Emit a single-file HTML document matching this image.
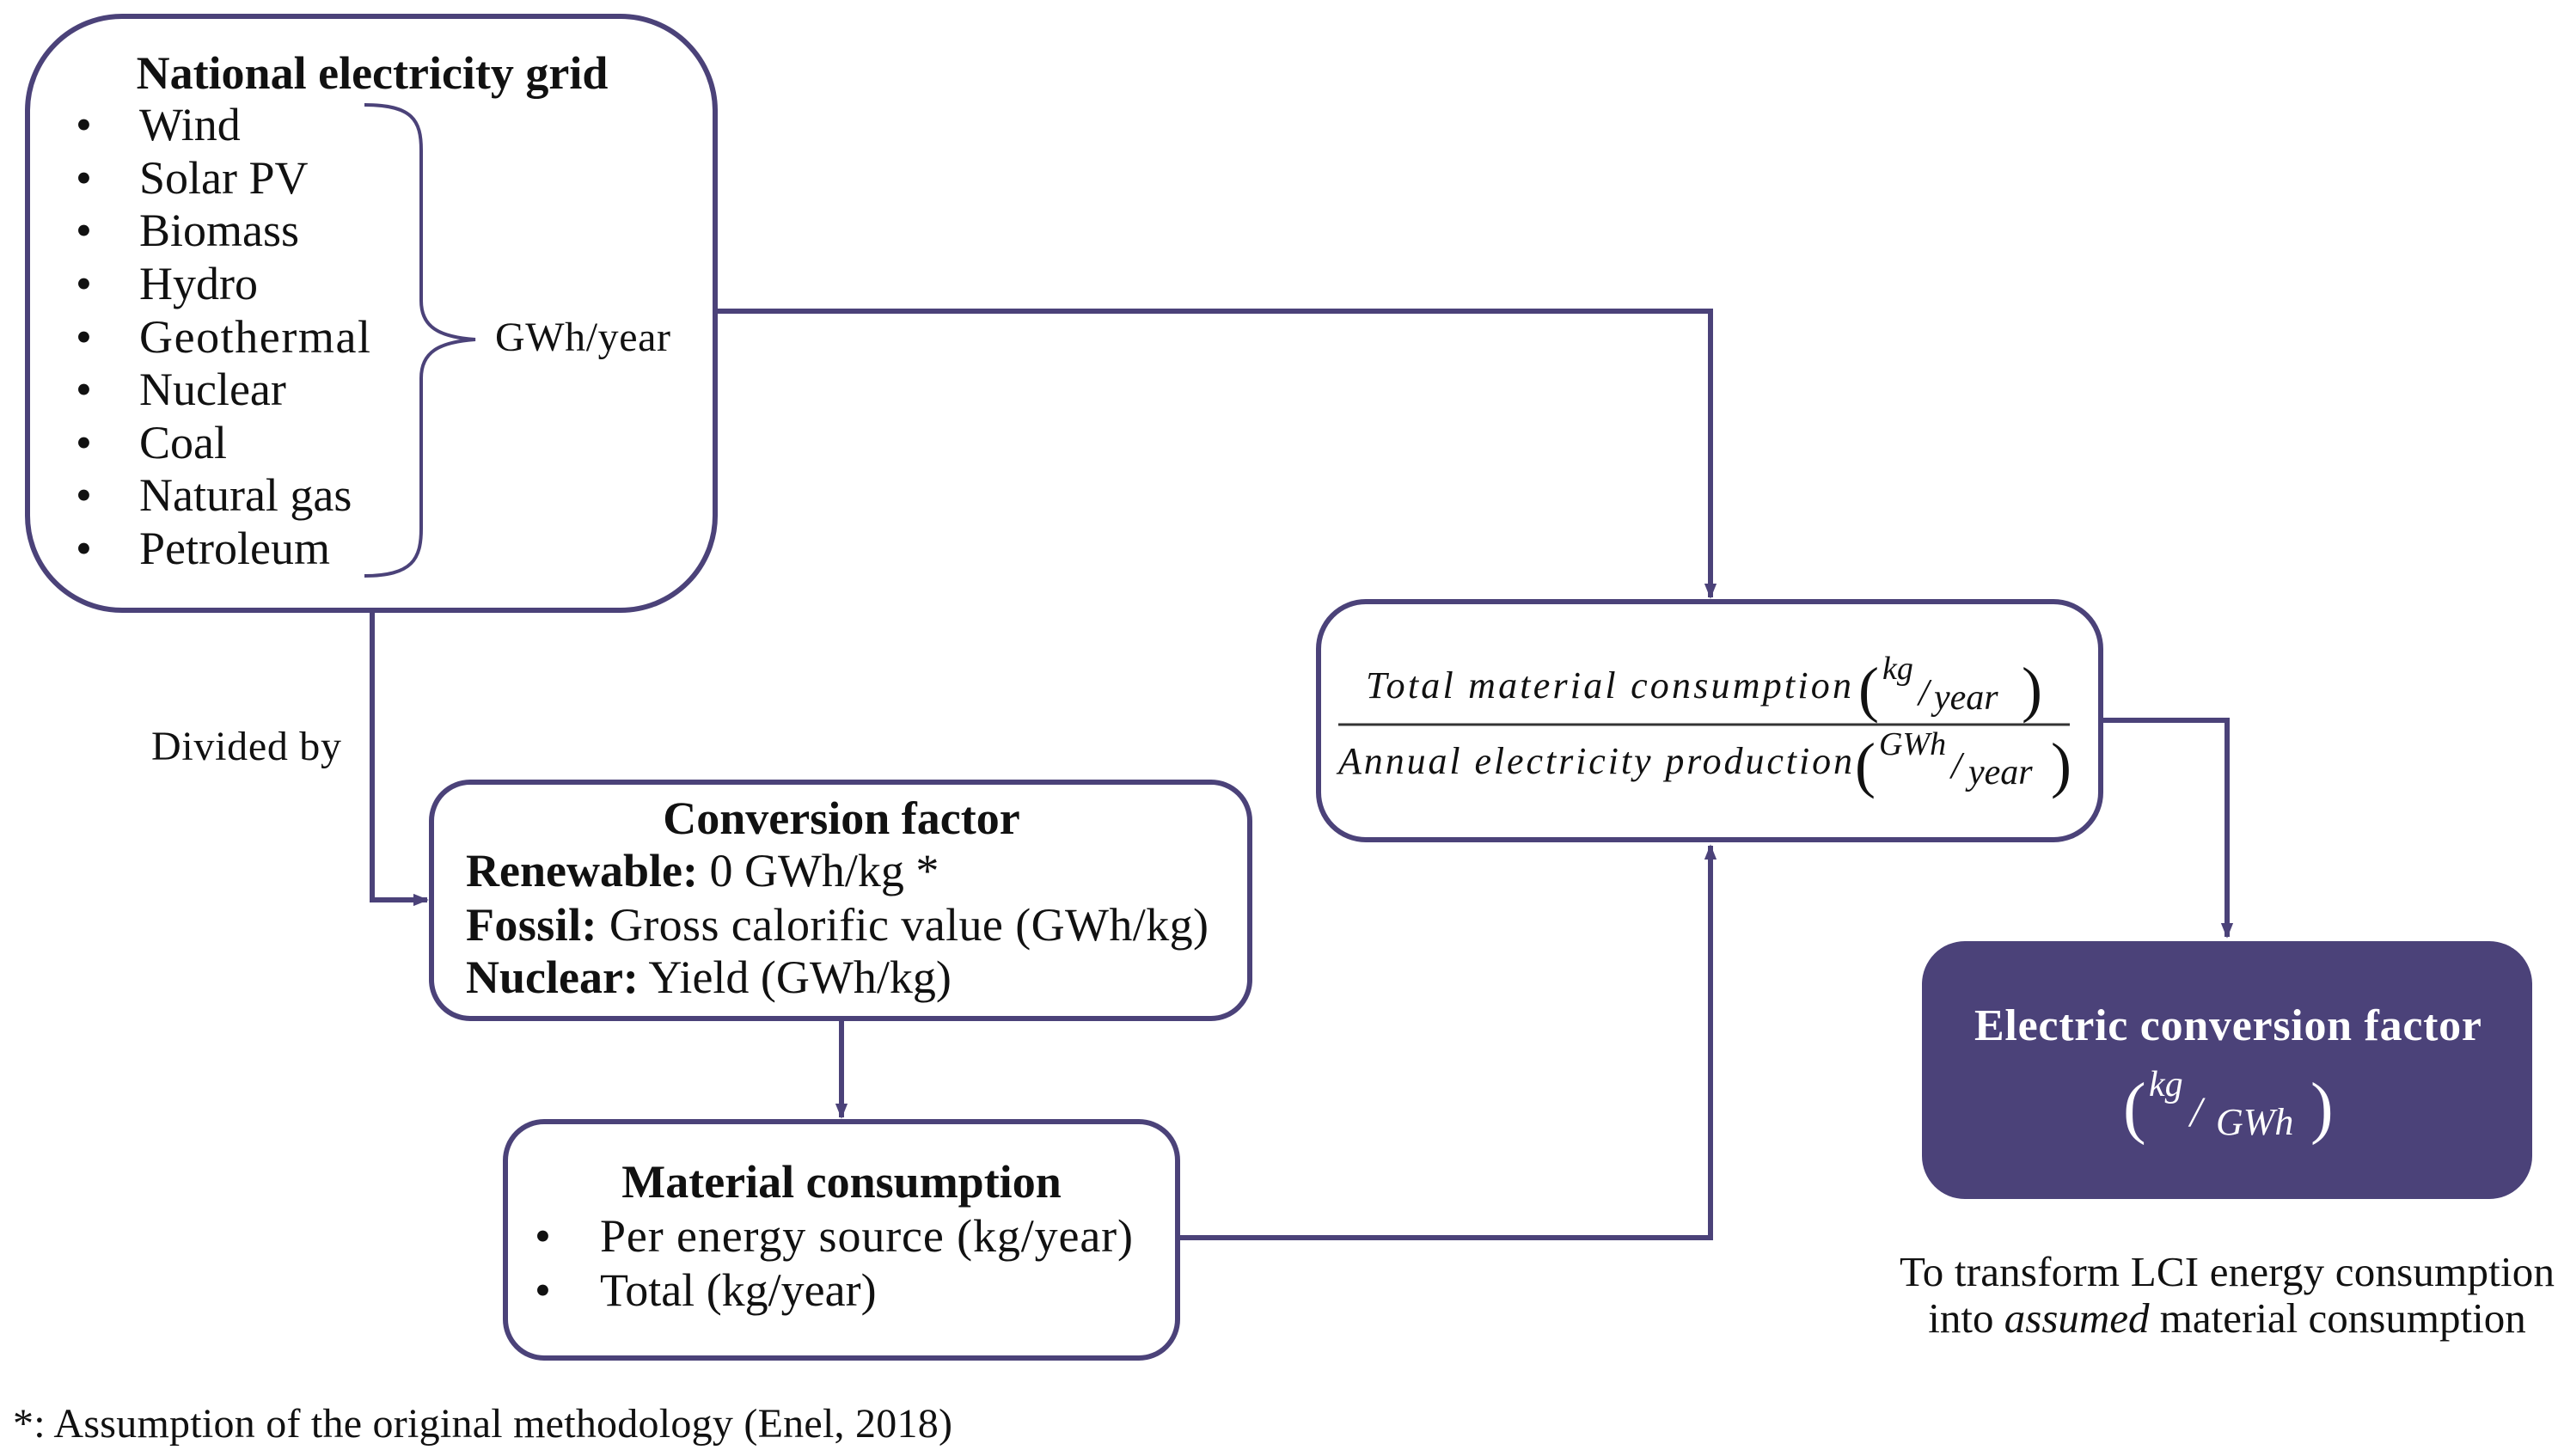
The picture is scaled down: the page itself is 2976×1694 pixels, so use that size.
<!DOCTYPE html>
<html><head><meta charset="utf-8"><style>
html,body{margin:0;padding:0;background:#fff}
svg{display:block}
text{font-family:"Liberation Serif",serif;fill:#111}
</style></head><body>
<svg width="2976" height="1694" viewBox="0 0 2976 1694" xmlns="http://www.w3.org/2000/svg">
<defs>
<marker id="b" viewBox="0 0 10 10" markerWidth="18" markerHeight="18" refX="9" refY="5" orient="auto" markerUnits="userSpaceOnUse"><path d="M0,1 L10,5 L0,9z" fill="#4b4279"/></marker></defs>
<g fill="none" stroke="#4b4279" stroke-width="6">
<rect x="32" y="19" width="800" height="691" rx="110"/>
<rect x="1534" y="700" width="910" height="277" rx="55"/>
<rect x="502" y="910" width="952" height="275" rx="45"/>
<rect x="588" y="1305" width="782" height="275" rx="45"/>
<path d="M424,122 C480,122 490,140 490,175 L490,350 C490,380 510,392 553,395 C510,398 490,410 490,440 L490,615 C490,650 480,670 424,670" stroke-width="4"/>
<path d="M832,362 H1990 V695" marker-end="url(#b)"/>
<path d="M2444,838 H2591 V1090" marker-end="url(#b)"/>
<path d="M433,710 V1047 H497" marker-end="url(#b)"/>
<path d="M979,1185 V1300" marker-end="url(#b)"/>
<path d="M1370,1440 H1990 V984" marker-end="url(#b)"/>
</g>
<rect x="2236" y="1095" width="710" height="300" rx="50" fill="#4b4279"/>
<text x="433" y="103" font-size="54" font-weight="bold" text-anchor="middle">National electricity grid</text>
<g font-size="54">
<text x="88" y="163">•</text><text x="162" y="163">Wind</text>
<text x="88" y="225">•</text><text x="162" y="225">Solar PV</text>
<text x="88" y="286">•</text><text x="162" y="286">Biomass</text>
<text x="88" y="348">•</text><text x="162" y="348">Hydro</text>
<text x="88" y="410">•</text><text x="162" y="410" textLength="269">Geothermal</text>
<text x="88" y="471">•</text><text x="162" y="471">Nuclear</text>
<text x="88" y="533">•</text><text x="162" y="533">Coal</text>
<text x="88" y="594">•</text><text x="162" y="594">Natural gas</text>
<text x="88" y="656">•</text><text x="162" y="656">Petroleum</text>
</g>
<text x="576" y="408" font-size="48" textLength="204">GWh/year</text>
<text x="176" y="884" font-size="48" textLength="221">Divided by</text>
<text x="979" y="970" font-size="54" font-weight="bold" text-anchor="middle">Conversion factor</text>
<text x="542" y="1031" font-size="54"><tspan font-weight="bold">Renewable:</tspan> 0 GWh/kg *</text>
<text x="542" y="1094" font-size="54" textLength="864"><tspan font-weight="bold">Fossil:</tspan> Gross calorific value (GWh/kg)</text>
<text x="542" y="1155" font-size="54"><tspan font-weight="bold">Nuclear:</tspan> Yield (GWh/kg)</text>
<text x="979" y="1393" font-size="54" font-weight="bold" text-anchor="middle">Material consumption</text>
<text x="622" y="1456" font-size="54">•</text><text x="698" y="1456" font-size="54" textLength="620">Per energy source (kg/year)</text>
<text x="622" y="1519" font-size="54">•</text><text x="698" y="1519" font-size="54">Total (kg/year)</text>
<g font-style="italic">
<text x="1589" y="812" font-size="44" textLength="565">Total material consumption</text>
<text x="2162" y="826" font-size="72" font-style="normal">(</text>
<text x="2190" y="790" font-size="38">kg</text><text x="2232" y="820" font-size="44">/</text><text x="2250" y="825" font-size="42">year</text>
<text x="2352" y="826" font-size="72" font-style="normal">)</text>
<text x="1557" y="900" font-size="44" textLength="598">Annual electricity production</text>
<text x="2158" y="914" font-size="72" font-style="normal">(</text>
<text x="2186" y="878" font-size="38">GWh</text><text x="2270" y="905" font-size="44">/</text><text x="2290" y="912" font-size="42">year</text>
<text x="2386" y="914" font-size="72" font-style="normal">)</text>
</g>
<line x1="1557" y1="843" x2="2408" y2="843" stroke="#333" stroke-width="3"/>
<text x="2592" y="1210" font-size="52" font-weight="bold" text-anchor="middle" style="fill:#fff" textLength="590">Electric conversion factor</text>
<g font-style="italic">
<text x="2470" y="1315" font-size="80" font-style="normal" style="fill:#fff">(</text>
<text x="2500" y="1275" font-size="42" style="fill:#fff">kg</text>
<text x="2548" y="1310" font-size="50" style="fill:#fff">/</text>
<text x="2578" y="1320" font-size="44" style="fill:#fff">GWh</text>
<text x="2688" y="1315" font-size="80" font-style="normal" style="fill:#fff">)</text>
</g>
<text x="2591" y="1496" font-size="49" text-anchor="middle" textLength="762">To transform LCI energy consumption</text>
<text x="2591" y="1550" font-size="49" text-anchor="middle">into <tspan font-style="italic">assumed</tspan> material consumption</text>
<text x="15" y="1672" font-size="48" textLength="1093">*: Assumption of the original methodology (Enel, 2018)</text>
</svg>
</body></html>
